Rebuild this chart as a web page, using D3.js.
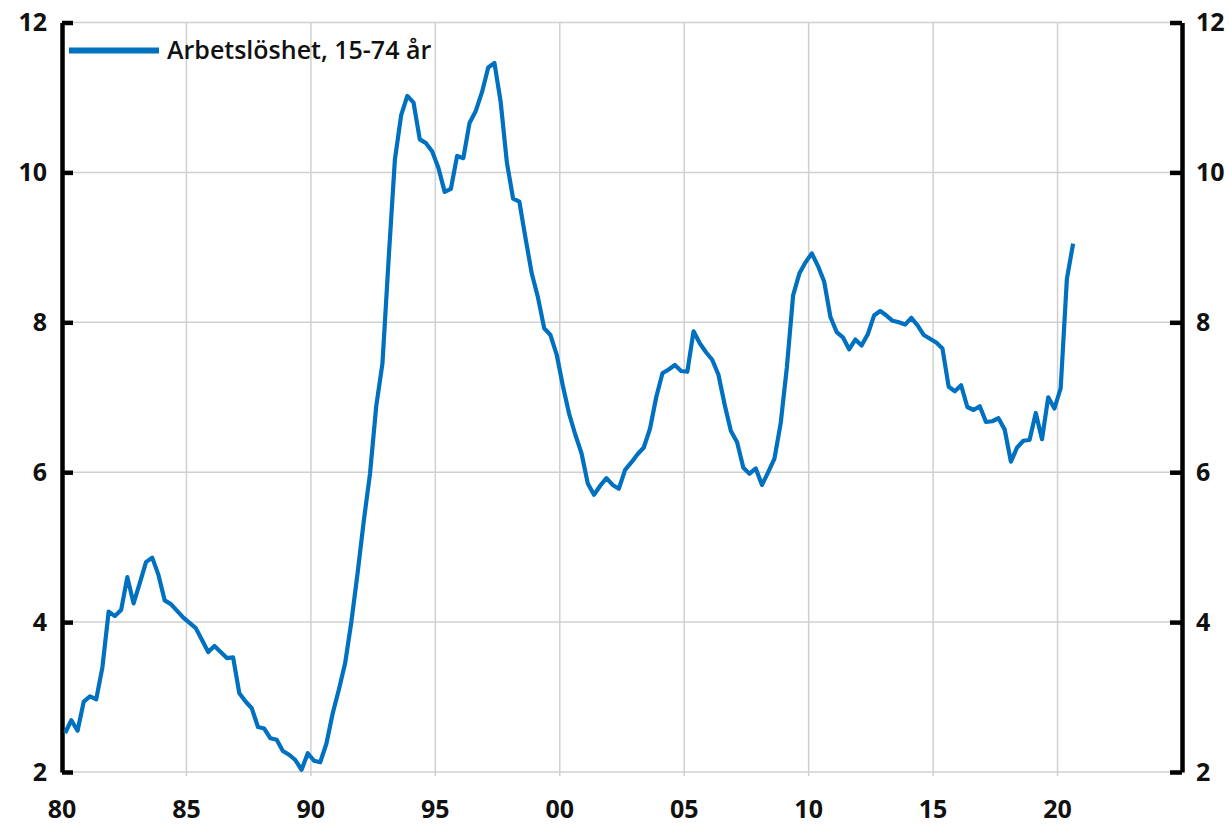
<!DOCTYPE html>
<html lang="sv">
<head>
<meta charset="UTF-8">
<title>Arbetslöshet, 15-74 år</title>
<script src="https://d3js.org/d3.v7.min.js"></script>
<style>
  body { margin: 0; background: #fff; }
  svg text { font-family: "Open Sans", "Liberation Sans", sans-serif; fill: #111; }
</style>
</head>
<body>
<div id="chart"></div>
<script>
// quarterly unemployment, 1980Q1 .. 2020Q3 (plotted mid-quarter)
const startYear = 1980;
const seriesName = "Arbetslöshet, 15-74 år";
const values = [
  2.52, 2.69, 2.55, 2.94, 3.01, 2.97, 3.40, 4.14, 4.08, 4.16,
  4.60, 4.25, 4.52, 4.80, 4.86, 4.63, 4.29, 4.24, 4.15, 4.06,
  3.99, 3.92, 3.76, 3.60, 3.68, 3.60, 3.52, 3.53, 3.05, 2.94,
  2.85, 2.60, 2.58, 2.45, 2.43, 2.28, 2.23, 2.16, 2.03, 2.25,
  2.15, 2.13, 2.38, 2.78, 3.10, 3.45, 4.00, 4.65, 5.35, 5.98,
  6.88, 7.45, 8.85, 10.17, 10.76, 11.02, 10.93, 10.44, 10.39, 10.28,
  10.06, 9.74, 9.78, 10.22, 10.19, 10.66, 10.82, 11.07, 11.40, 11.46,
  10.94, 10.13, 9.65, 9.61, 9.12, 8.65, 8.33, 7.92, 7.83, 7.57,
  7.15, 6.78, 6.50, 6.25, 5.85, 5.70, 5.82, 5.92, 5.83, 5.78,
  6.03, 6.13, 6.24, 6.33, 6.58, 7.00, 7.32, 7.37, 7.43, 7.35,
  7.34, 7.88, 7.72, 7.60, 7.50, 7.30, 6.90, 6.55, 6.40, 6.06,
  5.98, 6.05, 5.83, 6.00, 6.18, 6.65, 7.40, 8.36, 8.65, 8.80,
  8.92, 8.75, 8.54, 8.07, 7.87, 7.80, 7.64, 7.77, 7.69, 7.84,
  8.09, 8.15, 8.09, 8.02, 8.00, 7.97, 8.06, 7.96, 7.83, 7.78,
  7.73, 7.65, 7.14, 7.08, 7.16, 6.87, 6.83, 6.88, 6.67, 6.68,
  6.72, 6.57, 6.14, 6.33, 6.42, 6.43, 6.79, 6.44, 7.00, 6.85,
  7.12, 8.58, 9.05
];
const xTickYears = [1980, 1985, 1990, 1995, 2000, 2005, 2010, 2015, 2020];
const xTickLabels = ["80", "85", "90", "95", "00", "05", "10", "15", "20"];
const yTicks = [2, 4, 6, 8, 10, 12];

const width = 1229, height = 826;
const plotLeft = 62, plotRight = 1182, plotTop = 22.5, plotBottom = 772;

const data = values.map((v, i) => ({ t: startYear + i / 4 + 0.125, v: v }));

const x = d3.scaleLinear().domain([1980, 2025]).range([plotLeft, plotRight]);
const y = d3.scaleLinear().domain([2, 12]).range([plotBottom, plotTop]);

const svg = d3.select("#chart").append("svg")
  .attr("width", width)
  .attr("height", height);

// grid
svg.append("g").selectAll("line")
  .data(yTicks)
  .enter().append("line")
  .attr("x1", plotLeft).attr("x2", plotRight)
  .attr("y1", d => y(d)).attr("y2", d => y(d))
  .attr("stroke", "#d0d0d0").attr("stroke-width", 1.5);

svg.append("g").selectAll("line")
  .data(xTickYears.slice(1))
  .enter().append("line")
  .attr("x1", d => x(d)).attr("x2", d => x(d))
  .attr("y1", plotTop).attr("y2", plotBottom + 4)
  .attr("stroke", "#d0d0d0").attr("stroke-width", 1.5);

// left and right axes, ticks pointing inward
const leftAxis = d3.axisLeft(y).tickValues(yTicks).tickSizeInner(-11).tickSizeOuter(0).tickPadding(15);
const rightAxis = d3.axisRight(y).tickValues(yTicks).tickSizeInner(-12).tickSizeOuter(0).tickPadding(14);

function styleAxis(g) {
  g.select(".domain").attr("stroke", "#000").attr("stroke-width", 4.5);
  g.selectAll(".tick line").attr("stroke", "#000").attr("stroke-width", 4.5);
  g.selectAll(".tick text")
    .style("font-size", "25px").style("font-weight", "bold").attr("fill", "#111");
}

svg.append("g").attr("transform", `translate(${plotLeft},0)`).call(leftAxis).call(styleAxis);
svg.append("g").attr("transform", `translate(${plotRight},0)`).call(rightAxis).call(styleAxis);

// x labels (no axis line)
svg.append("g").selectAll("text")
  .data(xTickYears)
  .enter().append("text")
  .attr("x", d => x(d))
  .attr("y", 818)
  .attr("text-anchor", "middle")
  .style("font-size", "25px").style("font-weight", "bold")
  .text((d, i) => xTickLabels[i]);

// series
const line = d3.line().x(d => x(d.t)).y(d => y(d.v));
svg.append("path")
  .datum(data)
  .attr("fill", "none")
  .attr("stroke", "#0070C0")
  .attr("stroke-width", 4.2)
  .attr("stroke-linejoin", "round")
  .attr("d", line);

// legend
svg.append("line")
  .attr("x1", 69).attr("x2", 159)
  .attr("y1", 50.5).attr("y2", 50.5)
  .attr("stroke", "#0070C0").attr("stroke-width", 6);
svg.append("text")
  .attr("x", 167).attr("y", 59)
  .style("font-size", "25px").style("font-weight", 600)
  .text(seriesName);
</script>
</body>
</html>
